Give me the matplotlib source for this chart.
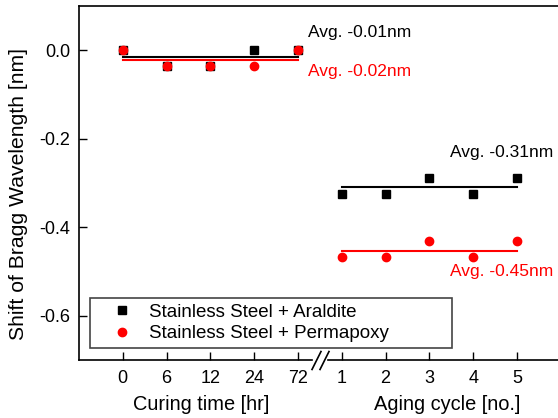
import matplotlib
matplotlib.use("Agg")
import matplotlib.pyplot as plt

plt.rcParams['font.family'] = ['Liberation Sans', 'DejaVu Sans']
plt.rcParams['font.size'] = 12.5

# x positions: curing time (0..4) then aging cycle (5..9), axis break between
curing_labels = ['0', '6', '12', '24', '72']
aging_labels = ['1', '2', '3', '4', '5']

araldite_curing = [0.0, -0.035, -0.035, 0.0, 0.0]
permapoxy_curing = [0.0, -0.035, -0.035, -0.035, 0.0]
araldite_aging = [-0.324, -0.324, -0.289, -0.324, -0.289]
permapoxy_aging = [-0.468, -0.468, -0.432, -0.468, -0.432]

avg_araldite_curing = -0.016
avg_permapoxy_curing = -0.022
avg_araldite_aging = -0.31
avg_permapoxy_aging = -0.453

xc = list(range(len(curing_labels)))
xa = [len(curing_labels) + i for i in range(len(aging_labels))]

fig = plt.figure(figsize=(5.58, 4.18), dpi=100)
ax = fig.add_axes([79/558, 58/418, 12*43.8/558, 354/418])

ax.plot(xc + xa, araldite_curing + araldite_aging, 's', color='black', ms=5.2,
        linestyle='none', label='Stainless Steel + Araldite')
ax.plot(xc + xa, permapoxy_curing + permapoxy_aging, 'o', color='red', ms=6,
        linestyle='none', label='Stainless Steel + Permapoxy')

# average lines
ax.plot([xc[0], xc[-1]], [avg_araldite_curing]*2, color='black', lw=1.5)
ax.plot([xc[0], xc[-1]], [avg_permapoxy_curing]*2, color='red', lw=1.5)
ax.plot([xa[0], xa[-1]], [avg_araldite_aging]*2, color='black', lw=1.5)
ax.plot([xa[0], xa[-1]], [avg_permapoxy_aging]*2, color='red', lw=1.5)

ax.text(4.22, 0.041, 'Avg. -0.01nm', color='black', va='center', ha='left')
ax.text(4.22, -0.047, 'Avg. -0.02nm', color='red', va='center', ha='left')
ax.text(7.47, -0.232, 'Avg. -0.31nm', color='black', va='center', ha='left')
ax.text(7.47, -0.501, 'Avg. -0.45nm', color='red', va='center', ha='left')

ax.set_xlim(-1, 11)
ax.set_ylim(-0.7, 0.1)
ax.set_xticks(xc + xa)
ax.set_xticklabels(curing_labels + aging_labels)
ax.set_yticks([0.0, -0.2, -0.4, -0.6])
ax.set_yticklabels(['0.0', '-0.2', '-0.4', '-0.6'])
ax.tick_params(direction='in', length=6, width=1, labelsize=13)
ax.tick_params(axis='x', pad=7.5)
ax.tick_params(axis='y', pad=6.5)
fig.text(19/558, 1 - 194/418, 'Shift of Bragg Wavelength [nm]', rotation=90,
         ha='center', va='center', fontsize=15.2)

for s in ['top', 'left']:
    ax.spines[s].set_linewidth(1.2)
ax.spines['right'].set_visible(False)
ax.spines['bottom'].set_visible(False)

# broken bottom axis
tr = ax.get_xaxis_transform()
ax.plot([-1, 4.32], [0, 0], color='black', lw=1.2, transform=tr, clip_on=False)
ax.plot([4.68, 11], [0, 0], color='black', lw=1.2, transform=tr, clip_on=False)
ax.plot([4.42, 4.6], [0, 0], linestyle='none', marker=[(-1, -2), (1, 2)],
        ms=14, mew=1.2, color='black', transform=tr, clip_on=False)

# axis group labels
ax.text(1.8, -0.127, 'Curing time [hr]', transform=tr, ha='center', va='center',
        fontsize=14.4)
ax.text(7.41, -0.127, 'Aging cycle [no.]', transform=tr, ha='center', va='center',
        fontsize=14.4)

leg = ax.legend(loc='lower left', bbox_to_anchor=(0.021, 0.034, (452-90)/525.6, 0.15),
                mode='expand', fancybox=False, edgecolor='#444444', framealpha=1,
                handletextpad=0.1, borderpad=0.3, labelspacing=0.25,
                handlelength=2.77, borderaxespad=0, fontsize=13.5)
leg.get_frame().set_linewidth(1.2)

fig.savefig('out.png', dpi=100)
